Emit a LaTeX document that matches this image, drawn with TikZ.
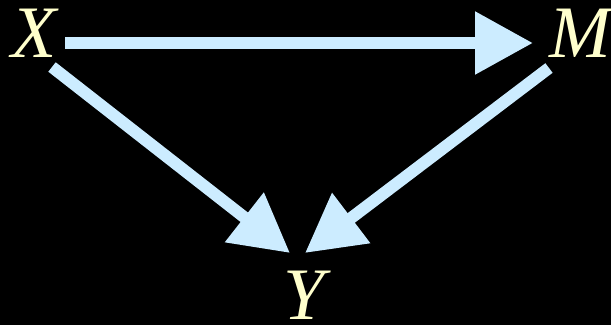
\documentclass[tikz,border=0pt]{standalone}
\usepackage{fontspec}
\setmainfont{Liberation Serif}
\usepackage{tikz}
\usetikzlibrary{arrows.meta}
\definecolor{varyellow}{RGB}{255,255,204}
\definecolor{pathblue}{RGB}{204,236,255}

\begin{document}
\begin{tikzpicture}[
    x=1pt, y=1pt,
    var/.style={inner sep=0pt, text=varyellow, font=\fontsize{74}{74}\selectfont\itshape},
    arrow/.style={-{Triangle[length=58pt, width=60pt]}, line width=12pt, draw=pathblue, fill=pathblue}
]
% background and frame
\fill[black] (0,0) rectangle (611,325);
\useasboundingbox (0,0) rectangle (611,325);

% variables
\node[var] (X) at (34,292) {X};
\node[var] (M) at (580,292) {M};
\node[var] (Y) at (304,30) {Y};

% paths
\draw[arrow] ([shift={(31pt,-10pt)}]X.center) -- ([shift={(-47pt,-10pt)}]M.center);
\draw[arrow] ([shift={(18pt,-34pt)}]X.center) -- ([shift={(-14pt,42pt)}]Y.center);
\draw[arrow] ([shift={(-31pt,-35pt)}]M.center) -- ([shift={(1pt,42pt)}]Y.center);

\end{tikzpicture}
\end{document}
